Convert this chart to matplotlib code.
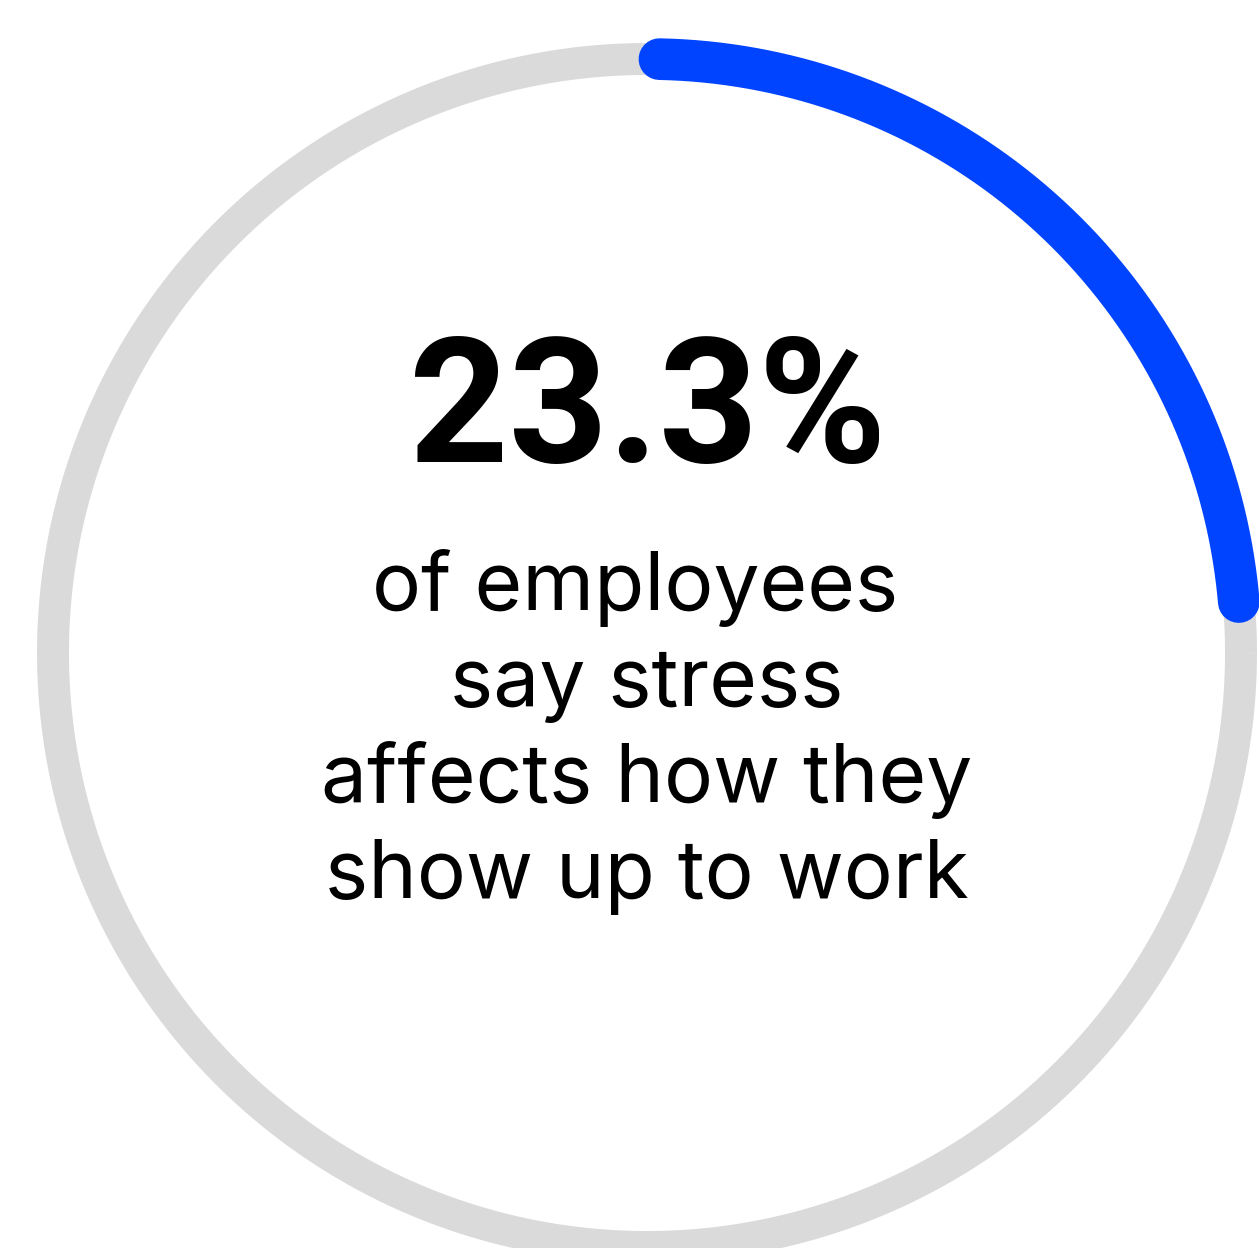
import numpy as np
import matplotlib.pyplot as plt

# share of employees who say stress affects how they show up to work
share = 23.3
headline = "23.3%"
caption_lines = ["of employees ", "say stress", "affects how they", "show up to work"]

track_color = "#dadada"
value_color = "#0044ff"

W, H = 1259, 1248
fig = plt.figure(figsize=(W / 100, H / 100), dpi=100)
ax = fig.add_axes([0, 0, 1, 1])
ax.set_xlim(0, W)
ax.set_ylim(H, 0)
ax.set_aspect("equal")
ax.axis("off")

cx, cy, r = 647, 653, 594

# full grey track
t = np.linspace(0, 2 * np.pi, 720)
ax.plot(cx + r * np.cos(t), cy + r * np.sin(t), color=track_color, lw=23, solid_capstyle="butt")

# blue arc, clockwise from 12 o'clock, proportional to the share
start = 1.2
ang = np.radians(np.linspace(start, start + share / 100 * 360, 300))
ax.plot(cx + r * np.sin(ang), cy - r * np.cos(ang), color=value_color, lw=30, solid_capstyle="round")

ax.text(648, 462, headline, ha="center", va="baseline", fontsize=125,
        fontweight="bold", family="Roboto", color="black")

for i, line in enumerate(caption_lines):
    ax.text(647, 610 + i * 96, line, ha="center", va="baseline", fontsize=59,
            family="Inter", color="black")

fig.savefig("out.png", dpi=100)
